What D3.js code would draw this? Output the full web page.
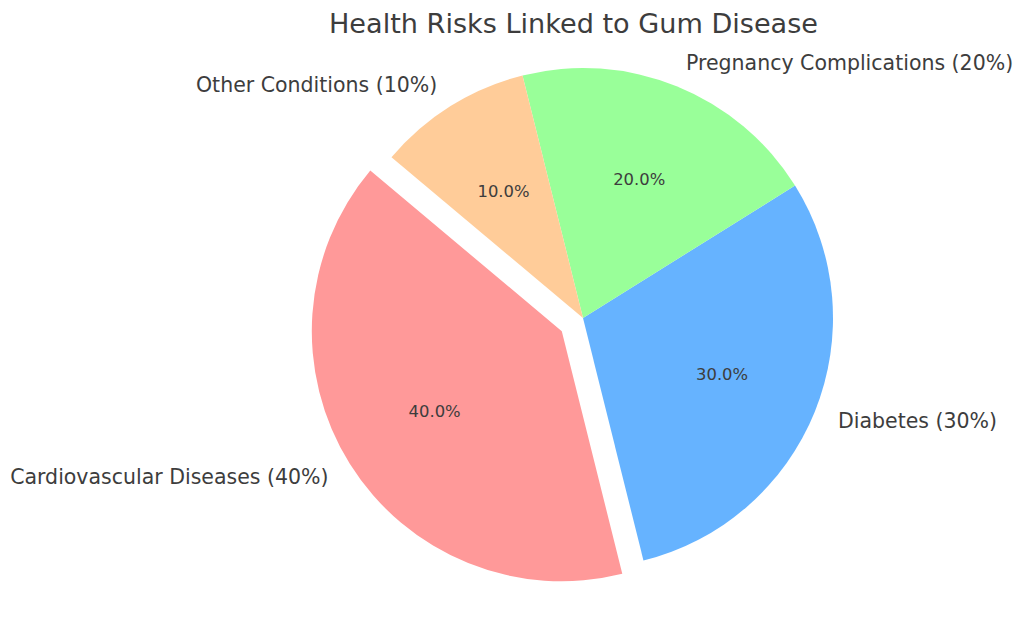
<!DOCTYPE html>
<html>
<head>
<meta charset="utf-8">
<script src="https://cdn.jsdelivr.net/npm/d3@7"></script>
<style>
  html, body { margin: 0; padding: 0; background: #fff; }
  svg { display: block; font-family: "DejaVu Sans", sans-serif; }
</style>
</head>
<body>
<svg id="chart" width="1024" height="620"></svg>
<script>
const title = "Health Risks Linked to Gum Disease";
const categories = ["Cardiovascular Diseases", "Diabetes", "Pregnancy Complications", "Other Conditions"];
const values = [40, 30, 20, 10];
const explode = [0.1, 0, 0, 0];
const colors = ["#ff9999", "#66b3ff", "#99ff99", "#ffcc99"];

const svg = d3.select("#chart");
const cx = 583, cy = 318, r = 250;
const textColor = "#3d3d3d";

const startDeg = 140; // matplotlib startangle, counterclockwise
const toRad = Math.PI / 180;
const pie = d3.pie().sort(null).value(d => d.v)
  .startAngle((90 - startDeg) * toRad)
  .endAngle((90 - startDeg - 360) * toRad);

const data = categories.map((c, i) => ({ c, v: values[i], e: explode[i], col: colors[i] }));
const arcs = pie(data);
const total = d3.sum(values);
const arc = d3.arc().innerRadius(0).outerRadius(r);

const g = svg.append("g").attr("transform", `translate(${cx},${cy})`);

const slices = g.selectAll("g.slice").data(arcs).enter().append("g")
  .attr("class", "slice")
  .attr("transform", d => {
    const m = (d.startAngle + d.endAngle) / 2;
    const off = d.data.e * r;
    return `translate(${off * Math.sin(m)},${-off * Math.cos(m)})`;
  });

slices.append("path").attr("d", arc).attr("fill", d => d.data.col);

slices.append("text")
  .attr("x", d => { const m = (d.startAngle + d.endAngle) / 2; return 1.1 * r * Math.sin(m); })
  .attr("y", d => { const m = (d.startAngle + d.endAngle) / 2; return -1.1 * r * Math.cos(m); })
  .attr("dy", "0.36em")
  .attr("text-anchor", d => { const m = (d.startAngle + d.endAngle) / 2; return Math.sin(m) > 0 ? "start" : "end"; })
  .attr("font-size", 20.5)
  .attr("fill", textColor)
  .text(d => `${d.data.c} (${d.data.v}%)`);

slices.append("text")
  .attr("x", d => { const m = (d.startAngle + d.endAngle) / 2; return 0.6 * r * Math.sin(m); })
  .attr("y", d => { const m = (d.startAngle + d.endAngle) / 2; return -0.6 * r * Math.cos(m); })
  .attr("dy", "0.36em")
  .attr("text-anchor", "middle")
  .attr("font-size", 16.4)
  .attr("fill", textColor)
  .text(d => (d.data.v / total * 100).toFixed(1) + "%");

svg.append("text")
  .attr("x", 573.5).attr("y", 33)
  .attr("text-anchor", "middle")
  .attr("font-size", 27.1)
  .attr("fill", textColor)
  .text(title);
</script>
</body>
</html>
